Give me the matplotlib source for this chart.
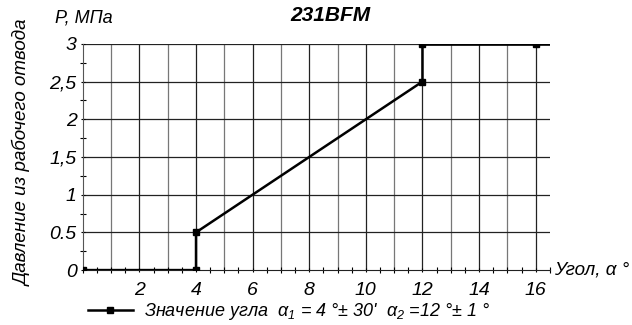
import matplotlib
matplotlib.use("Agg")
import matplotlib.pyplot as plt
from matplotlib.ticker import MultipleLocator

# точки характеристики
angle = [0, 4, 4, 12, 12, 16]
pressure = [0, 0, 0.5, 2.5, 3, 3]

x_ticks = [2, 4, 6, 8, 10, 12, 14, 16]
y_ticks = [0, 0.5, 1, 1.5, 2, 2.5, 3]
y_tick_labels = ["0", "0.5", "1", "1,5", "2", "2,5", "3"]

title = "231BFM"
legend_label = r"Значение угла  $\alpha_1$ = 4 °± 30'  $\alpha_2$ =12 °± 1 °"


def main():
    plt.rcParams["font.family"] = ["Liberation Sans", "DejaVu Sans"]
    plt.rcParams["font.style"] = "italic"
    plt.rcParams["mathtext.fontset"] = "custom"
    plt.rcParams["mathtext.it"] = "Liberation Sans:italic"
    plt.rcParams["mathtext.rm"] = "Liberation Sans"

    fig = plt.figure(figsize=(6.32, 3.25), dpi=100)
    ax = fig.add_axes([0.131, 0.169, 0.739, 0.696])

    ax.plot(angle, pressure, color="black", lw=1.8, marker="s", ms=4,
            label=legend_label, zorder=3)
    ax.plot([12, 16.5], [3, 3], color="black", lw=2.6, zorder=3)

    ax.set_xlim(0, 16.5)
    ax.set_ylim(0, 3)
    ax.set_xticks(x_ticks)
    ax.set_xticklabels([str(t) for t in x_ticks], fontsize=14)
    ax.set_yticks(y_ticks)
    ax.set_yticklabels(y_tick_labels, fontsize=14)
    ax.xaxis.set_minor_locator(MultipleLocator(0.5))
    ax.yaxis.set_minor_locator(MultipleLocator(0.25))
    ax.tick_params(which="major", length=3, width=0.8, direction="inout", pad=3)
    ax.tick_params(axis="x", which="major", pad=7)
    ax.tick_params(which="minor", length=5, width=0.8, direction="inout")

    for v in range(1, 17):
        ax.axvline(v, color="#222222" if v % 2 == 0 else "#777777", lw=0.9, zorder=1)
    for v in y_ticks[1:]:
        ax.axhline(v, color="#222222", lw=0.9, zorder=1)

    for side in ["top", "right"]:
        ax.spines[side].set_visible(False)
    ax.spines["left"].set_color("#555555")
    ax.spines["bottom"].set_color("#222222")

    fig.text(0.035, 0.53, "Давление из рабочего отвода", fontsize=13.5,
             rotation=90, ha="center", va="center")
    fig.text(0.087, 0.945, "P, МПа", fontsize=13, ha="left", va="center")
    fig.text(0.522, 0.952, title, fontsize=15, fontweight="bold", ha="center",
             va="center")
    fig.text(0.876, 0.17, "Угол, α °", fontsize=13.5, ha="left", va="center")

    ax.legend(loc="center left", bbox_to_anchor=(-0.005, -0.185), frameon=False,
              fontsize=13, handlelength=2.5, handletextpad=0.6,
              borderaxespad=0)

    plt.savefig("out.png", dpi=100)


if __name__ == "__main__":
    main()
